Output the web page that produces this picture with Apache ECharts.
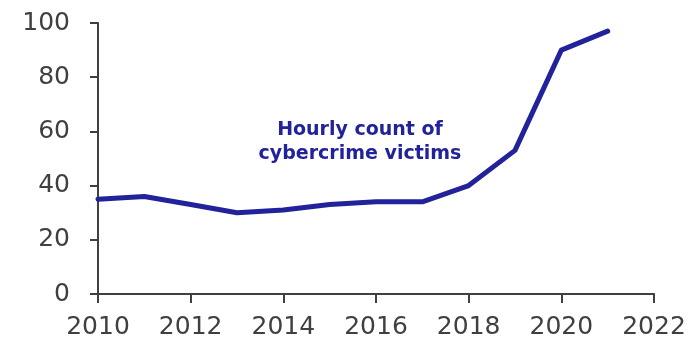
<!DOCTYPE html>
<html><head><meta charset="utf-8">
<script src="https://cdn.jsdelivr.net/npm/echarts@6/dist/echarts.min.js"></script>
<style>html,body{margin:0;padding:0;background:#fff}#c{width:700px;height:344px}</style>
</head><body><div id="c"></div>
<script>
const years = [2010, 2011, 2012, 2013, 2014, 2015, 2016, 2017, 2018, 2019, 2020, 2021];
const victims = [35, 36, 33, 30, 31, 33, 34, 34, 40, 53, 90, 97];
const xTicks = [2010, 2012, 2014, 2016, 2018, 2020, 2022];
const yTicks = [0, 20, 40, 60, 80, 100];
const seriesLabel = ['Hourly count of', 'cybercrime victims'];

const chart = echarts.init(document.getElementById('c'));
const axisColor = '#404040';
const font = 'DejaVu Sans, Verdana, sans-serif';
chart.setOption({
  animation: false,
  grid: {left: 98, right: 46, top: 23, bottom: 50},
  xAxis: {
    type: 'value', min: xTicks[0], max: xTicks[xTicks.length - 1], interval: 2,
    axisLine: {lineStyle: {color: axisColor, width: 2}},
    axisTick: {show: true, length: 9, lineStyle: {color: axisColor, width: 2}},
    splitLine: {show: false},
    axisLabel: {color: axisColor, fontSize: 25, fontFamily: font, margin: 21, formatter: v => String(v)}
  },
  yAxis: {
    type: 'value', min: yTicks[0], max: yTicks[yTicks.length - 1], interval: 20,
    axisLine: {show: true, lineStyle: {color: axisColor, width: 2}},
    axisTick: {show: true, length: 8, lineStyle: {color: axisColor, width: 2}},
    splitLine: {show: false},
    axisLabel: {color: axisColor, fontSize: 25, fontFamily: font, margin: 28}
  },
  graphic: [{
    type: 'text', x: 360, y: 118,
    style: {
      text: seriesLabel.join('\n'), fill: '#22229a', font: 'bold 19px ' + font,
      textAlign: 'center', lineHeight: 24
    }
  }],
  series: [{
    type: 'line', data: years.map((y, i) => [y, victims[i]]),
    symbol: 'none', lineStyle: {color: '#22229a', width: 5, cap: 'round', join: 'round'}
  }]
});
</script></body></html>
